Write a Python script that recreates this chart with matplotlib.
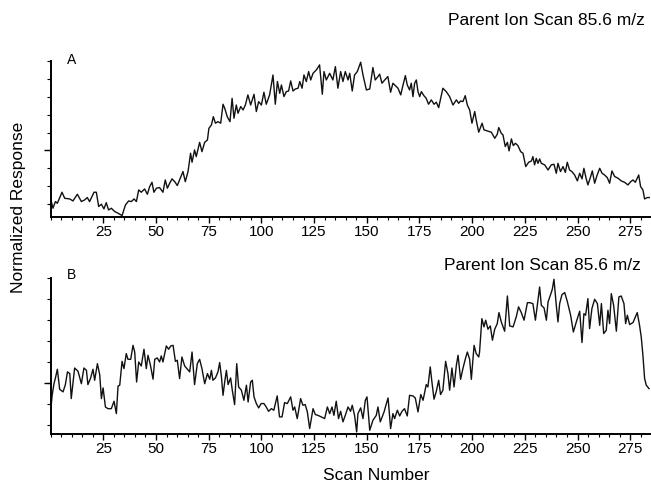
import numpy as np
import matplotlib
matplotlib.use("Agg")
import matplotlib.pyplot as plt
from matplotlib.ticker import MultipleLocator, NullFormatter

plt.rcParams['font.family'] = ['Liberation Sans', 'DejaVu Sans']

# panel A trace (scan number, normalized response 0-100)
scan_a = [0, 1.1, 2.3, 3.2, 5.4, 6.7, 9.1, 10.6, 12.7, 14.6, 16.2, 17.4, 18.5, 20.6, 21.7,
          22.8, 24.1, 25.3, 26.4, 27.5, 28.8, 30.4, 32.0, 33.9, 35.5, 37.0, 38.3, 39.6, 40.7,
          41.8, 43.0, 44.6, 45.9, 47.0, 48.1, 49.0, 50.2, 51.7, 53.3, 54.4, 55.4, 56.5, 57.6,
          58.9, 60.1, 61.2, 62.8, 63.9, 65.2, 66.4, 67.1, 68.3, 69.1, 70.7, 71.8, 73.1, 74.4,
          75.1, 76.3, 77.2, 78.2, 79.4, 80.7, 81.8, 82.6, 83.8, 85.1, 86.1, 87.0, 88.1, 88.9,
          90.2, 91.3, 92.4, 93.6, 94.9, 96.5, 97.6, 98.7, 100.0, 101.2, 102.3, 103.9, 105.5,
          106.6, 107.6, 108.7, 109.5, 110.7, 111.8, 112.9, 113.9, 115.0, 116.1, 117.4, 118.2,
          119.3, 120.2, 121.3, 122.4, 123.4, 124.5, 126.1, 127.6, 128.9, 129.7, 130.8, 132.4,
          133.9, 135.1, 136.3, 137.6, 138.7, 139.8, 141.1, 141.9, 143.1, 144.2, 145.5, 147.1,
          148.2, 149.8, 151.4, 152.9, 154.0, 155.3, 156.1, 157.2, 158.5, 160.0, 161.3, 162.4,
          163.5, 164.8, 166.1, 167.2, 168.3, 169.2, 170.3, 171.1, 171.9, 172.7, 173.5, 174.3,
          175.1, 175.9, 177.1, 178.2, 179.3, 180.6, 181.9, 183.0, 184.1, 186.1, 187.7, 189.3,
          190.9, 192.5, 193.6, 194.5, 195.6, 196.7, 197.7, 198.8, 199.9, 201.2, 201.9, 203.1,
          204.7, 205.6, 207.2, 209.1, 210.7, 211.9, 212.6, 213.8, 214.6, 215.7, 216.7, 217.5,
          218.6, 219.5, 220.5, 221.7, 223.0, 224.1, 225.4, 226.8, 228.1, 228.8, 229.6, 230.4,
          231.2, 232.0, 232.8, 234.4, 236.0, 237.5, 238.8, 239.9, 240.7, 241.9, 243.1, 244.2,
          245.1, 246.2, 247.3, 248.6, 249.9, 251.0, 252.1, 253.0, 254.1, 254.9, 256.2, 257.0,
          258.1, 259.2, 260.5, 261.6, 262.8, 264.1, 265.2, 266.3, 267.6, 269.2, 270.7, 272.3,
          273.9, 275.2, 276.3, 277.4, 279.0, 279.9, 281.0, 281.8, 283.1, 284.2]
resp_a = [11.7, 5.3, 9.6, 8.5, 15.6, 11.7, 11.3, 10.0, 14.3, 9.6, 10.7, 12.2, 9.6, 15.6, 15.6,
          6.4, 7.9, 4.9, 8.9, 4.2, 5.3, 3.2, 2.1, 0.6, 7.4, 10.0, 9.6, 11.3, 9.6,
          17.1, 15.6, 17.7, 14.3, 19.2, 22.0, 15.6, 18.2, 18.6, 15.6, 23.5, 18.2, 21.4, 24.2,
          22.4, 19.9, 23.5, 28.9, 22.4, 28.9, 40.7, 34.9, 42.8, 38.5, 47.7, 41.7, 47.7, 49.2,
          56.7, 58.9, 64.2, 60.0, 61.0, 60.0, 72.2, 69.6, 64.2, 61.0, 76.0, 63.2, 71.7, 66.4,
          70.7, 68.5, 71.7, 78.2, 71.7, 78.6, 67.5, 73.9, 71.7, 79.9, 72.2, 78.2, 91.0,
          72.2, 86.8, 79.2, 84.6, 77.1, 80.3, 80.7, 87.2, 80.7, 82.0, 82.5, 86.8,
          82.5, 91.0, 86.8, 93.2, 87.8, 92.1, 94.3, 97.5, 78.6, 93.2, 87.8, 92.1,
          87.8, 96.4, 82.5, 93.2, 86.8, 93.2, 87.8, 92.1, 80.7, 91.0, 93.2, 99.2,
          91.0, 81.4, 82.0, 95.8, 87.8, 90.0, 91.5, 85.7, 87.8, 90.0, 79.9, 85.7,
          84.2, 82.5, 78.2, 84.6, 90.6, 84.6, 81.4, 85.7, 77.1, 85.7, 87.8, 80.3,
          77.1, 80.3, 77.7, 76.0, 72.2, 75.0, 72.2, 73.5, 70.0, 82.5, 80.3, 77.1,
          71.7, 75.0, 72.8, 74.3, 73.9, 77.7, 71.7, 68.5, 60.0, 67.5, 62.1, 54.2,
          60.0, 55.7, 55.0, 54.2, 50.3, 52.9, 57.2, 53.5, 52.5, 45.0, 47.7, 42.2,
          49.9, 45.6, 47.1, 45.6, 41.7, 40.7, 32.1, 34.9, 35.7, 38.5, 33.2, 37.4,
          34.2, 37.0, 34.2, 33.2, 29.9, 33.2, 33.6, 27.8, 34.2, 28.9, 32.1, 28.4,
          34.9, 29.9, 28.9, 26.7, 22.9, 27.8, 24.2, 31.0, 24.2, 20.3, 25.7, 29.3,
          21.4, 26.3, 31.0, 27.8, 26.7, 25.0, 21.4, 29.3, 25.7, 24.6, 22.9, 22.0,
          20.3, 22.4, 23.5, 22.0, 26.7, 19.2, 17.1, 11.3, 12.2, 12.2]

# panel B trace
scan_b = [0, 0.7, 1.6, 2.3, 3.2, 4.3, 5.9, 7.0, 8.0, 9.1, 9.8, 11.4, 13.0, 14.6, 15.8, 17.0,
          17.7, 19.0, 20.1, 20.9, 22.2, 23.3, 24.1, 24.9, 26.0, 27.2, 28.8, 30.1, 31.2, 32.0,
          32.8, 33.9, 34.8, 35.9, 36.7, 38.0, 39.1, 39.9, 40.8, 41.8, 43.0, 44.3, 45.4, 46.2,
          47.3, 48.6, 49.4, 50.6, 51.7, 52.5, 53.3, 54.9, 56.0, 57.0, 58.1, 59.2, 60.1, 61.2,
          62.3, 63.6, 64.9, 66.0, 67.1, 68.3, 69.6, 70.7, 71.8, 73.1, 74.4, 75.5, 76.3, 77.0,
          78.2, 79.4, 80.2, 81.0, 81.8, 82.6, 83.4, 84.2, 85.4, 86.2, 87.3, 88.3, 89.2, 90.5,
          91.7, 92.9, 93.7, 94.9, 95.7, 96.5, 97.6, 98.7, 99.9, 101.2, 102.3, 103.4, 104.7,
          105.9, 107.5, 108.6, 109.8, 111.0, 112.3, 113.9, 115.0, 115.8, 117.0, 117.7, 118.6,
          119.7, 120.8, 121.8, 122.9, 124.5, 125.6, 126.8, 128.4, 130.0, 131.3, 132.4, 133.5,
          134.4, 135.5, 136.6, 137.6, 138.7, 139.8, 141.1, 142.3, 143.1, 144.2, 145.2, 145.8,
          147.1, 148.2, 149.3, 150.1, 151.4, 152.9, 154.5, 155.3, 156.4, 158.2, 159.3, 160.1,
          161.3, 162.4, 163.2, 164.5, 165.6, 166.7, 167.9, 169.2, 170.3, 171.9, 173.0, 174.3,
          175.6, 176.7, 178.2, 179.0, 180.1, 180.9, 181.9, 183.0, 184.1, 185.0, 186.1, 187.4,
          188.5, 189.3, 190.4, 191.4, 192.5, 193.3, 194.5, 195.6, 196.7, 197.7, 198.8, 199.6,
          200.9, 201.9, 203.1, 203.5, 204.6, 205.6, 206.4, 207.5, 208.6, 209.6, 210.7, 211.9,
          212.7, 213.8, 215.4, 216.7, 217.8, 219.4, 220.9, 222.0, 223.3, 224.6, 226.2, 227.3,
          228.8, 230.0, 230.9, 232.0, 232.8, 234.1, 235.2, 236.0, 237.2, 238.0, 238.8, 239.9,
          240.7, 241.5, 242.6, 243.9, 245.1, 246.7, 248.0, 249.4, 251.0, 252.1, 253.0, 253.8,
          254.9, 255.7, 256.8, 258.1, 259.4, 260.5, 261.3, 262.4, 263.6, 264.4, 265.2, 266.0,
          267.1, 268.4, 269.6, 270.7, 272.0, 272.8, 273.6, 274.7, 276.3, 277.4, 278.3, 279.4,
          280.2, 281.0, 281.8, 282.6, 283.9]
resp_b = [13.9, 24.2, 32.1, 35.8, 41.4, 28.5, 26.8, 31.5, 39.7, 38.6, 22.5, 42.2, 40.1, 32.1, 42.2, 40.7,
          31.5, 35.8, 41.4, 34.3, 45.0, 37.9, 22.5, 29.4, 17.1, 16.0, 16.0, 20.8, 12.8, 30.6,
          31.1, 46.5, 41.8, 51.5, 47.8, 47.8, 56.8, 52.5, 33.2, 46.1, 43.5, 54.3, 41.8, 50.4,
          44.4, 35.0, 47.8, 48.7, 46.1, 50.0, 46.1, 56.4, 54.3, 56.4, 56.8, 46.5, 47.2, 35.4,
          49.3, 43.5, 41.4, 39.7, 52.5, 31.5, 45.0, 47.8, 41.8, 32.1, 38.6, 35.0, 40.7, 34.3,
          35.8, 39.7, 45.7, 37.1, 24.6, 33.2, 40.7, 31.5, 35.8, 27.9, 18.6, 45.0, 30.0, 27.9,
          21.4, 31.1, 20.3, 33.2, 34.3, 23.6, 19.3, 16.5, 19.3, 19.3, 17.1, 14.3, 16.0,
          15.0, 24.2, 10.7, 10.7, 19.9, 19.3, 23.6, 15.0, 17.1, 9.6, 15.0, 22.5,
          18.2, 18.6, 13.9, 3.2, 16.0, 12.2, 11.7, 10.7, 9.6, 17.1, 12.8, 17.1,
          11.7, 20.8, 9.6, 14.3, 7.5, 11.7, 17.1, 14.3, 18.2, 11.7, 1.0, 12.8,
          16.5, 9.6, 21.4, 23.6, 2.1, 8.5, 11.7, 17.1, 7.5, 13.9, 19.3, 22.9,
          3.2, 12.8, 9.6, 15.0, 11.3, 14.3, 16.0, 11.3, 24.6, 24.2, 22.9, 13.9,
          25.1, 21.4, 31.5, 30.0, 42.9, 33.2, 22.1, 27.2, 34.3, 25.1, 27.9, 46.5,
          38.6, 27.9, 42.2, 30.0, 44.0, 50.4, 34.9, 41.8, 47.8, 52.5, 47.8, 34.9,
          56.8, 51.5, 49.3, 52.5, 74.0, 68.7, 73.0, 67.2, 69.3, 60.1, 67.2, 70.8,
          77.9, 71.9, 65.9, 88.6, 69.3, 68.7, 75.1, 81.6, 77.9, 73.0, 84.3, 84.3,
          83.7, 73.0, 82.6, 94.4, 82.6, 80.9, 73.0, 84.8, 89.5, 92.9, 99.4, 82.6,
          71.9, 83.7, 89.5, 90.8, 85.2, 76.2, 65.4, 71.9, 78.8, 58.6, 77.2, 76.2,
          86.9, 67.6, 80.5, 86.5, 83.7, 69.7, 83.7, 64.4, 66.5, 79.4, 70.8, 90.1,
          82.6, 65.9, 88.0, 88.6, 83.7, 70.8, 76.2, 70.2, 71.5, 75.1, 77.9, 69.7,
          62.2, 50.4, 35.4, 31.1, 28.9]

x_ticks = [25, 50, 75, 100, 125, 150, 175, 200, 225, 250, 275]
title = "Parent Ion Scan 85.6 m/z"

W, H = 651, 483
fig = plt.figure(figsize=(W / 100, H / 100), dpi=100)

def setup(ax, ytop_step, ymajor):
    ax.set_xlim(0, 284.5)
    ax.set_ylim(0, 100)
    for s in ['top', 'right']:
        ax.spines[s].set_visible(False)
    for s in ['left', 'bottom']:
        ax.spines[s].set_linewidth(1.4)
        ax.spines[s].set_color('black')
    ax.set_xticks(x_ticks)
    ax.xaxis.set_minor_locator(MultipleLocator(5))
    yt = list(100 - np.arange(0, 100, ytop_step))
    ax.set_yticks([ymajor])
    ax.set_yticks(yt, minor=True)
    ax.yaxis.set_major_formatter(NullFormatter())
    ax.tick_params(axis='x', which='major', length=4, width=1, labelsize=11, pad=2)
    ax.tick_params(axis='x', which='minor', length=2.5, width=0.8)
    ax.tick_params(axis='y', which='major', length=5, width=1)
    ax.tick_params(axis='y', which='minor', length=3, width=0.8)

# panel A
axA = fig.add_axes([50.6 / W, 1 - 216.5 / H, (650.3 - 50.6) / W, 155.5 / H])
axA.plot(scan_a, resp_a, color='#111111', lw=1.0)
setup(axA, 11.5, 42.8)
fig.text(71.7 / W, 1 - 60 / H, "A", fontsize=10, ha='center', va='center')
fig.text(645 / W, 1 - 20.7 / H, title, fontsize=12.5, ha='right', va='center')

# panel B
axB = fig.add_axes([50.6 / W, 1 - 433.5 / H, (650.3 - 50.6) / W, 155.2 / H])
axB.plot(scan_b, resp_b, color='#111111', lw=1.0)
setup(axB, 13.5, 32.3)
fig.text(71.7 / W, 1 - 275 / H, "B", fontsize=10, ha='center', va='center')
fig.text(640.7 / W, 1 - 265 / H, title, fontsize=12.5, ha='right', va='center')

fig.text(19 / W, 1 - 207.5 / H, "Normalized Response", fontsize=12.5,
         rotation=90, ha='center', va='center')
fig.text(375.8 / W, 1 - 475 / H, "Scan Number", fontsize=12.5, ha='center', va='center')

fig.savefig("out.png", dpi=100)
